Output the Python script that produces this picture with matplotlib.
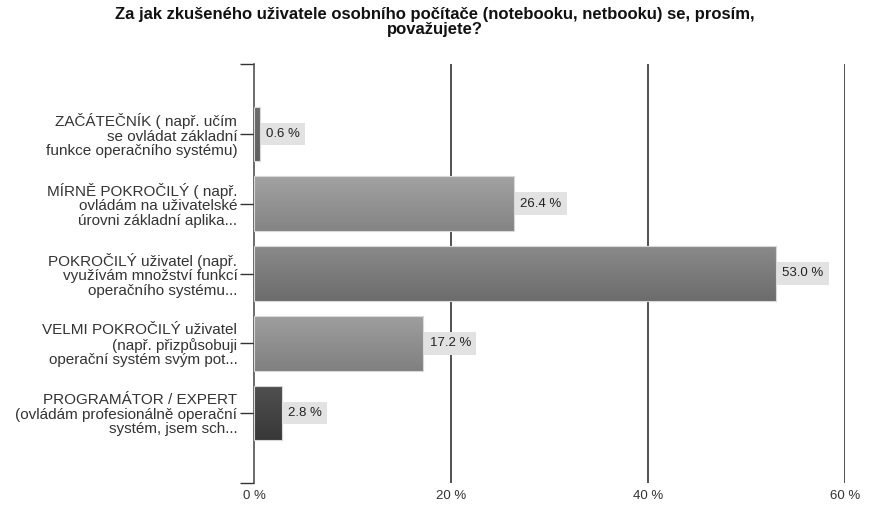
import matplotlib
matplotlib.use('Agg')
import matplotlib.pyplot as plt
import numpy as np

plt.rcParams['font.family'] = ['Liberation Sans', 'DejaVu Sans']

title = 'Za jak zkušeného uživatele osobního počítače (notebooku, netbooku) se, prosím,\npovažujete?'
categories = [
    'ZAČÁTEČNÍK ( např. učím\nse ovládat základní\nfunkce operačního systému)',
    'MÍRNĚ POKROČILÝ ( např.\novládám na uživatelské\núrovni základní aplika...',
    'POKROČILÝ uživatel (např.\nvyužívám množství funkcí\noperačního systému...',
    'VELMI POKROČILÝ uživatel\n(např. přizpůsobuji\noperační systém svým pot...',
    'PROGRAMÁTOR / EXPERT\n(ovládám profesionálně operační\nsystém, jsem sch...',
]
values = [0.6, 26.4, 53.0, 17.2, 2.8]
# top / bottom shade of each bar gradient
top_colors = ['#6c6c6c', '#a2a2a2', '#8a8a8a', '#9e9e9e', '#505050']
bottom_colors = ['#606060', '#848484', '#6c6c6c', '#808080', '#383838']
xticks = [0, 20, 40, 60]

fig = plt.figure(figsize=(8.7, 5.21), dpi=100)
ax = fig.add_axes([254 / 870, 1 - 483 / 521, (845 - 254) / 870, (483 - 64) / 521])

y = np.arange(len(values))
height = 0.78
bars = ax.barh(y, values, height=height, color='none', edgecolor='#d8d8d8',
               linewidth=0.8, zorder=3)

for i, b in enumerate(bars):
    c1 = np.array(matplotlib.colors.to_rgb(top_colors[i]))
    c2 = np.array(matplotlib.colors.to_rgb(bottom_colors[i]))
    t = np.linspace(0, 1, 64)[:, None]
    grad = (c1 * (1 - t) + c2 * t)[:, None, :]
    im = ax.imshow(grad, extent=[0, values[i], y[i] + height / 2, y[i] - height / 2],
                   aspect='auto', zorder=2, interpolation='bilinear')
    im.set_clip_path(b)
    ax.text(values[i] + 0.62, y[i], '%.1f %%' % values[i], va='center', ha='left',
            fontsize=9.5, color='#222222', zorder=4,
            bbox=dict(boxstyle='square,pad=0.4', facecolor='#e2e2e2', edgecolor='none'))

for xv in xticks[1:]:
    ax.axvline(xv, color='#222222', linewidth=1.1, zorder=1)

ax.set_xlim(0, 60)
ax.set_ylim(5, -1)

ax.set_yticks(list(y) + [-1, 5])
ax.set_yticklabels(categories + ['', ''], fontsize=11, color='#333333', linespacing=1.05)
ax.tick_params(axis='y', length=10, width=1, color='#333333', pad=2)

ax.set_xticks(xticks)
ax.set_xticklabels(['%d %%' % v for v in xticks], fontsize=9.5, color='#333333')
ax.tick_params(axis='x', length=0, pad=5)

for s in ['top', 'right', 'bottom']:
    ax.spines[s].set_visible(False)
ax.spines['left'].set_color('#444444')
ax.spines['left'].set_linewidth(1.1)

fig.text(0.5, 0.986, title, ha='center', va='top', fontsize=12, fontweight='bold',
         color='#111111', linespacing=1.0)

fig.savefig('out.png', dpi=100)
